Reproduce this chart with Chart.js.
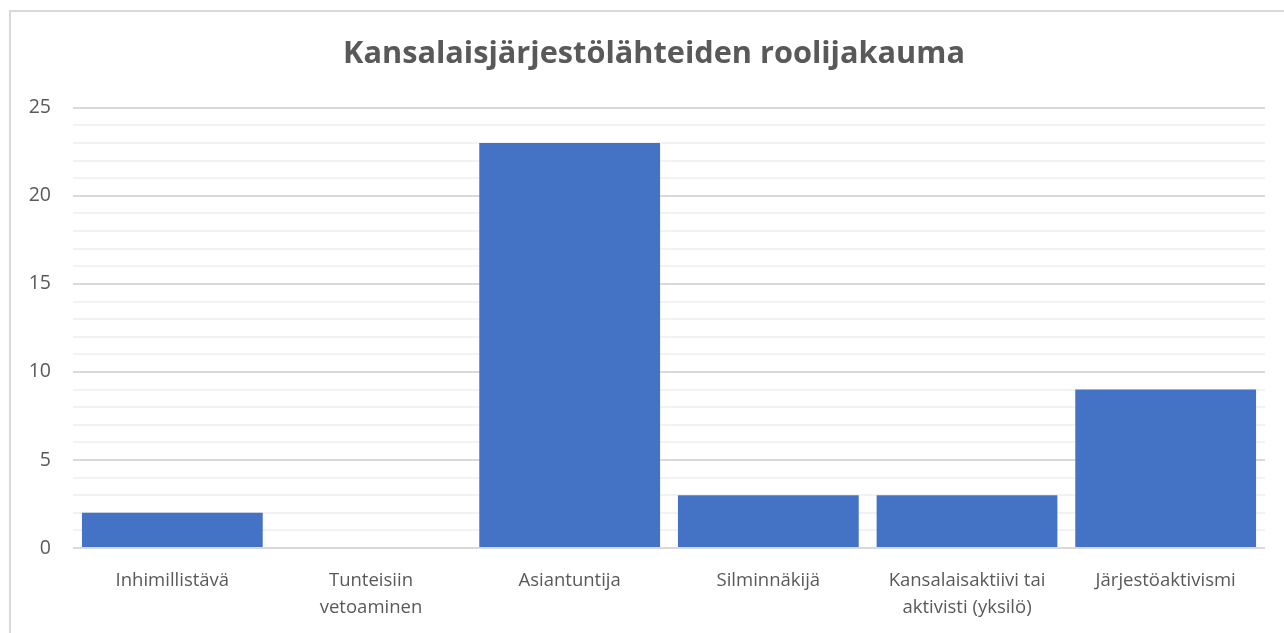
<!DOCTYPE html>
<html>
<head>
<meta charset="utf-8">
<script src="https://cdn.jsdelivr.net/npm/chart.js@4"></script>
<style>
  body { margin: 0; background: #fff; overflow: hidden; }
  #box { position: absolute; left: 9px; top: 10px; width: 1290px; height: 640px;
         border: 2px solid #d9d9d9; box-sizing: border-box; }
  #chart { position: absolute; left: 0; top: 0; }
</style>
</head>
<body>
<div id="box"><canvas id="chart" width="1286" height="611"></canvas></div>
<script>
// data
var categories = ['Inhimillistävä', ['Tunteisiin', 'vetoaminen'], 'Asiantuntija', 'Silminnäkijä',
                  ['Kansalaisaktiivi tai', 'aktivisti (yksilö)'], 'Järjestöaktivismi'];
var values = [2, 0, 23, 3, 3, 9];
var yMax = 25;
var yMajorStep = 5;

var fontFam = 'Open Sans';
var ctx = document.getElementById('chart').getContext('2d');
var chart = new Chart(ctx, {
    type: 'bar',
    data: {
        labels: categories,
        datasets: [{
            label: 'Lähteet',
            data: values,
            backgroundColor: '#4472c4',
            barPercentage: 0.91,
            categoryPercentage: 1.0
        }]
    },
    options: {
        responsive: false,
        animation: false,
        layout: { padding: 0 },
        plugins: {
            legend: { display: false },
            tooltip: { enabled: false },
            title: {
                display: true,
                text: 'Kansalaisjärjestölähteiden roolijakauma',
                color: '#595959',
                font: { family: fontFam, size: 30.7, weight: 'bold', lineHeight: 1.2 },
                padding: { top: 24, bottom: 35 }
            }
        },
        scales: {
            x: {
                grid: { display: false },
                border: { display: false },
                afterFit: function(scale) { scale.height = 75; },
                ticks: {
                    color: '#595959',
                    font: { family: fontFam, size: 18.5, lineHeight: 1.45 },
                    maxRotation: 0,
                    autoSkip: false,
                    padding: 11
                }
            },
            y: {
                min: 0,
                max: yMax,
                border: { display: false },
                afterFit: function(scale) { scale.width = 62; },
                grid: {
                    drawTicks: false,
                    lineWidth: 2,
                    color: function(c) {
                        return c.tick.value % yMajorStep === 0 ? '#d9d9d9' : '#f2f2f2';
                    }
                },
                ticks: {
                    stepSize: 1,
                    autoSkip: false,
                    color: '#595959',
                    font: { family: fontFam, size: 19.5 },
                    padding: 22,
                    callback: function(v) { return v % yMajorStep === 0 ? v : ''; }
                }
            },
            // empty right axis, only keeps the right margin so the title stays centred
            yRight: {
                position: 'right',
                grid: { display: false },
                border: { display: false },
                ticks: { display: false },
                afterFit: function(scale) { scale.width = 32; }
            }
        }
    }
});
</script>
</body>
</html>
